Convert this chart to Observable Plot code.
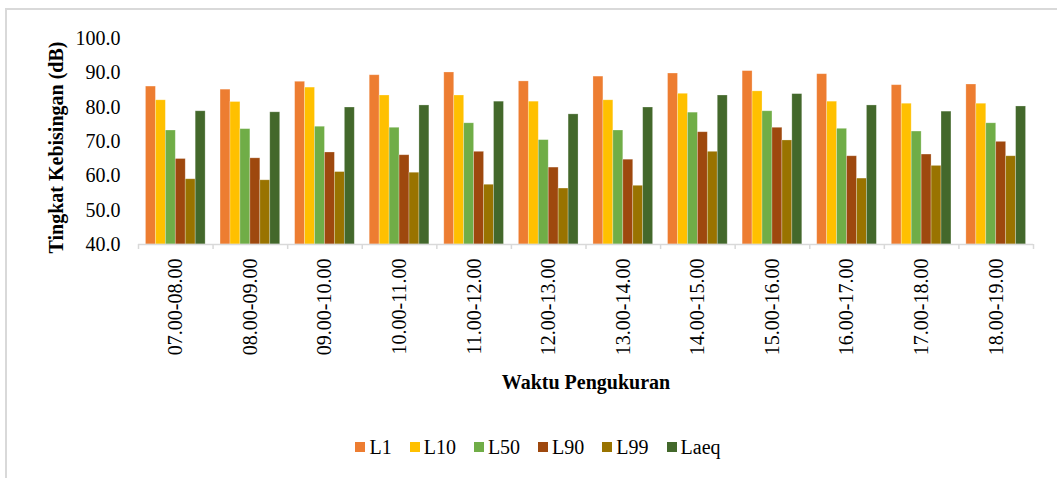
<!DOCTYPE html>
<html>
<head>
<meta charset="utf-8">
<script src="https://cdn.jsdelivr.net/npm/d3@7"></script>
<script src="https://cdn.jsdelivr.net/npm/@observablehq/plot@0.6"></script>
<style>
  html, body { margin: 0; padding: 0; background: #fff; }
  #frame {
    position: absolute; left: 5px; top: 8px; width: 1050px; height: 470px;
    border-left: 2px solid #d9d9d9; border-top: 2px solid #d9d9d9;
    font-family: "Liberation Serif", "Times New Roman", serif; color: #000;
  }
  #legend { display: flex; justify-content: center; padding-top: 25px; padding-left: 30px; }
  #legend .lg-swatches { font-family: "Liberation Serif", "Times New Roman", serif !important; font-size: 20px !important; color: #000; margin: 0 !important; min-height: 24px !important; }
  #legend .lg-swatch { margin-right: 18px !important; }
  #legend .lg-swatch > svg { margin-right: 4px !important; }
</style>
</head>
<body>
<div id="frame"><div id="chart"></div><div id="legend"></div></div>
<script>
// ---- data ----
const times = ["07.00-08.00", "08.00-09.00", "09.00-10.00", "10.00-11.00", "11.00-12.00", "12.00-13.00",
               "13.00-14.00", "14.00-15.00", "15.00-16.00", "16.00-17.00", "17.00-18.00", "18.00-19.00"];
const L1   = [86.0, 85.1, 87.4, 89.3, 90.1, 87.5, 88.9, 89.8, 90.5, 89.6, 86.4, 86.6];
const L10  = [82.0, 81.5, 85.7, 83.4, 83.4, 81.6, 82.0, 83.9, 84.6, 81.6, 81.0, 81.0];
const L50  = [73.2, 73.6, 74.3, 74.0, 75.3, 70.4, 73.2, 78.4, 78.8, 73.7, 72.9, 75.3];
const L90  = [64.9, 65.1, 66.8, 66.0, 67.0, 62.4, 64.7, 72.7, 74.0, 65.7, 66.2, 69.9];
const L99  = [59.0, 58.7, 61.1, 60.9, 57.4, 56.3, 57.1, 67.0, 70.3, 59.2, 62.9, 65.7];
const Laeq = [78.8, 78.5, 79.9, 80.5, 81.6, 77.9, 79.9, 83.4, 83.8, 80.5, 78.7, 80.2];
const seriesNames = ["L1", "L10", "L50", "L90", "L99", "Laeq"];
const yTicks = [40, 50, 60, 70, 80, 90, 100];
const yTitle = "Tingkat Kebisingan (dB)";
const xTitle = "Waktu Pengukuran";

// ---- styles ----
const colors = ["#ED7D31", "#FFC000", "#70AD47", "#9E480E", "#997300", "#43682B"];
const seriesValues = [L1, L10, L50, L90, L99, Laeq];
const rows = seriesNames.flatMap((s, j) => times.map((t, i) => ({time: t, series: s, value: seriesValues[j][i]})));

const W = 1050, H = 400, mL = 131, mR = 24, mT = 28, mB = 166;
const band = (W - mL - mR) / times.length;
const bw = band / (seriesNames.length + 1.5);
const axisGrey = "#d9d9d9";

const barMarks = seriesNames.map((s, j) => Plot.barY(rows.filter(d => d.series === s), {
  x: "time", y1: yTicks[0], y2: "value", fill: "series",
  insetLeft: 0.75 * bw + j * bw,
  insetRight: band - 0.75 * bw - (j + 1) * bw,
  stroke: "#ffffff", strokeOpacity: 0.35, strokeWidth: 0.75
}));

const chart = Plot.plot({
  width: W, height: H,
  marginLeft: mL, marginRight: mR, marginTop: mT, marginBottom: mB,
  style: {fontFamily: '"Liberation Serif", "Times New Roman", serif', fontSize: "20px", color: "#000", background: "transparent", overflow: "visible"},
  x: {type: "band", domain: times, paddingInner: 0, paddingOuter: 0, round: false},
  y: {domain: [yTicks[0], yTicks[yTicks.length - 1]]},
  color: {domain: seriesNames, range: colors},
  marks: [
    ...barMarks,
    Plot.ruleY([yTicks[0]], {stroke: axisGrey, strokeWidth: 1.5}),
    Plot.ruleX(times, {x: d => d, y1: yTicks[0], y2: yTicks[0], insetBottom: -5, dx: -band / 2, stroke: axisGrey, strokeWidth: 1.5}),
    Plot.ruleX([times[times.length - 1]], {x: d => d, y1: yTicks[0], y2: yTicks[0], insetBottom: -5, dx: band / 2, stroke: axisGrey, strokeWidth: 1.5}),
    Plot.axisY(yTicks, {tickSize: 0, tickPadding: 18, tickFormat: d3.format(".1f"), label: null, fontSize: 20}),
    Plot.axisX({tickSize: 0, tickRotate: -90, tickPadding: 14, label: null, fontSize: 20}),
    Plot.text([yTitle], {frameAnchor: "left", textAnchor: "middle", rotate: -90, dx: -82, dy: 6, fontWeight: "bold", fontSize: 20, fill: "#000"}),
    Plot.text([xTitle], {frameAnchor: "bottom", dy: 144, fontWeight: "bold", fontSize: 20, fill: "#000"})
  ]
});
document.getElementById("chart").appendChild(chart);
document.getElementById("legend").appendChild(chart.legend("color", {swatchSize: 10, className: "lg"}));
</script>
</body>
</html>
